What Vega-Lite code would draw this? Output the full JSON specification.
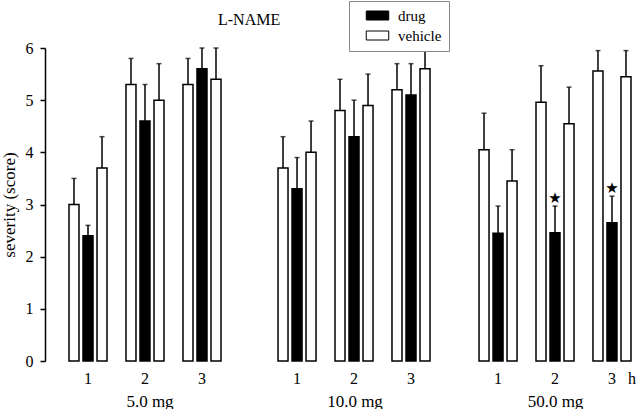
{
  "$schema": "https://vega.github.io/schema/vega-lite/v6.json",
  "padding": {"left": 0, "top": 0, "right": 0, "bottom": 0},
  "title": {"text": "L-NAME", "anchor": "start", "frame": "group", "dx": 173, "offset": -27, "fontSize": 16, "fontWeight": "normal", "font": "Liberation Serif", "color": "black"},
  "data": {"values": [
    {"dose": "5.0 mg", "t": "1", "slot": "a", "grp": "vehicle", "v": 3.0, "e": 3.5, "star": false},
    {"dose": "5.0 mg", "t": "1", "slot": "b", "grp": "drug", "v": 2.4, "e": 2.6, "star": false},
    {"dose": "5.0 mg", "t": "1", "slot": "c", "grp": "vehicle", "v": 3.7, "e": 4.3, "star": false},
    {"dose": "5.0 mg", "t": "2", "slot": "a", "grp": "vehicle", "v": 5.3, "e": 5.8, "star": false},
    {"dose": "5.0 mg", "t": "2", "slot": "b", "grp": "drug", "v": 4.6, "e": 5.3, "star": false},
    {"dose": "5.0 mg", "t": "2", "slot": "c", "grp": "vehicle", "v": 5.0, "e": 5.7, "star": false},
    {"dose": "5.0 mg", "t": "3", "slot": "a", "grp": "vehicle", "v": 5.3, "e": 5.8, "star": false},
    {"dose": "5.0 mg", "t": "3", "slot": "b", "grp": "drug", "v": 5.6, "e": 6.0, "star": false},
    {"dose": "5.0 mg", "t": "3", "slot": "c", "grp": "vehicle", "v": 5.4, "e": 6.0, "star": false},
    {"dose": "10.0 mg", "t": "1", "slot": "a", "grp": "vehicle", "v": 3.7, "e": 4.3, "star": false},
    {"dose": "10.0 mg", "t": "1", "slot": "b", "grp": "drug", "v": 3.3, "e": 3.9, "star": false},
    {"dose": "10.0 mg", "t": "1", "slot": "c", "grp": "vehicle", "v": 4.0, "e": 4.6, "star": false},
    {"dose": "10.0 mg", "t": "2", "slot": "a", "grp": "vehicle", "v": 4.8, "e": 5.4, "star": false},
    {"dose": "10.0 mg", "t": "2", "slot": "b", "grp": "drug", "v": 4.3, "e": 5.0, "star": false},
    {"dose": "10.0 mg", "t": "2", "slot": "c", "grp": "vehicle", "v": 4.9, "e": 5.5, "star": false},
    {"dose": "10.0 mg", "t": "3", "slot": "a", "grp": "vehicle", "v": 5.2, "e": 5.7, "star": false},
    {"dose": "10.0 mg", "t": "3", "slot": "b", "grp": "drug", "v": 5.1, "e": 5.7, "star": false},
    {"dose": "10.0 mg", "t": "3", "slot": "c", "grp": "vehicle", "v": 5.6, "e": 6.0, "star": false},
    {"dose": "50.0 mg", "t": "1", "slot": "a", "grp": "vehicle", "v": 4.05, "e": 4.75, "star": false},
    {"dose": "50.0 mg", "t": "1", "slot": "b", "grp": "drug", "v": 2.45, "e": 2.97, "star": false},
    {"dose": "50.0 mg", "t": "1", "slot": "c", "grp": "vehicle", "v": 3.45, "e": 4.05, "star": false},
    {"dose": "50.0 mg", "t": "2", "slot": "a", "grp": "vehicle", "v": 4.96, "e": 5.66, "star": false},
    {"dose": "50.0 mg", "t": "2", "slot": "b", "grp": "drug", "v": 2.46, "e": 2.97, "star": true},
    {"dose": "50.0 mg", "t": "2", "slot": "c", "grp": "vehicle", "v": 4.55, "e": 5.25, "star": false},
    {"dose": "50.0 mg", "t": "3", "slot": "a", "grp": "vehicle", "v": 5.56, "e": 5.95, "star": false},
    {"dose": "50.0 mg", "t": "3", "slot": "b", "grp": "drug", "v": 2.65, "e": 3.16, "star": true},
    {"dose": "50.0 mg", "t": "3", "slot": "c", "grp": "vehicle", "v": 5.45, "e": 5.95, "star": false}
  ]},
  "spacing": 0,
  "hconcat": [
    {
      "width": 209, "height": 313,
      "transform": [{"filter": "datum.dose == '5.0 mg'"}],
      "encoding": {
        "x": {"field": "t", "type": "nominal", "scale": {"paddingInner": 0.333, "paddingOuter": 0.5, "align": 0.421}, "axis": {"title": "5.0 mg", "labelAngle": 0, "domain": false, "ticks": false, "labelPadding": 9, "titlePadding": 7}},
        "xOffset": {"field": "slot", "type": "nominal", "scale": {"paddingInner": 0.286, "paddingOuter": 0}}
      },
      "layer": [
        {"mark": {"type": "bar", "stroke": "black", "strokeWidth": 1.5},
         "encoding": {
           "y": {"field": "v", "type": "quantitative", "scale": {"domain": [0, 6], "nice": false}, "axis": {"title": "severity (score)", "values": [0, 1, 2, 3, 4, 5, 6], "tickSize": 5, "labelPadding": 7, "titlePadding": 7, "labelFontSize": 16, "domainWidth": 1.5, "tickWidth": 1.5}},
           "fill": {"field": "grp", "type": "nominal", "scale": {"domain": ["drug", "vehicle"], "range": ["black", "white"]},
             "legend": {"orient": "none", "legendX": 304, "legendY": -47, "title": null, "symbolType": "M-2.5,-1H2.5V1H-2.5Z", "symbolSize": 81, "symbolStrokeColor": "black", "symbolStrokeWidth": 1, "labelFontSize": 15, "padding": 7, "rowPadding": 4, "strokeColor": "#888", "fillColor": "white", "symbolOffset": 14, "labelOffset": 13}}
         }},
        {"mark": {"type": "rule", "strokeWidth": 1.5, "color": "black"},
         "encoding": {"y": {"field": "v", "type": "quantitative"}, "y2": {"field": "e"}}},
        {"mark": {"type": "tick", "thickness": 1.5, "size": 5, "color": "black"},
         "encoding": {"y": {"field": "e", "type": "quantitative"}}}
      ]
    },
    {
      "width": 201, "height": 313,
      "transform": [{"filter": "datum.dose == '10.0 mg'"}],
      "encoding": {
        "x": {"field": "t", "type": "nominal", "scale": {"paddingInner": 0.333, "paddingOuter": 0.43, "align": 0.49}, "axis": {"title": "10.0 mg", "labelAngle": 0, "domain": false, "ticks": false, "labelPadding": 9, "titlePadding": 7}},
        "xOffset": {"field": "slot", "type": "nominal", "scale": {"paddingInner": 0.286, "paddingOuter": 0}}
      },
      "layer": [
        {"mark": {"type": "bar", "stroke": "black", "strokeWidth": 1.5},
         "encoding": {
           "y": {"field": "v", "type": "quantitative", "scale": {"domain": [0, 6], "nice": false}, "axis": null},
           "fill": {"field": "grp", "type": "nominal", "scale": {"domain": ["drug", "vehicle"], "range": ["black", "white"]}, "legend": null}
         }},
        {"mark": {"type": "rule", "strokeWidth": 1.5, "color": "black"},
         "encoding": {"y": {"field": "v", "type": "quantitative"}, "y2": {"field": "e"}}},
        {"mark": {"type": "tick", "thickness": 1.5, "size": 5, "color": "black"},
         "encoding": {"y": {"field": "e", "type": "quantitative"}}}
      ]
    },
    {
      "width": 185, "height": 313,
      "transform": [{"filter": "datum.dose == '50.0 mg'"}],
      "encoding": {
        "x": {"field": "t", "type": "nominal", "scale": {"paddingInner": 0.333, "paddingOuter": 0.29, "align": 0.727}, "axis": {"title": "50.0 mg", "titleX": 100, "labelAngle": 0, "domain": false, "ticks": false, "labelPadding": 9, "titlePadding": 7, "labelAlign": "left", "labelOffset": -4, "labelExpr": "datum.label == '3' ? '3\u00a0\u00a0\u00a0h' : datum.label"}},
        "xOffset": {"field": "slot", "type": "nominal", "scale": {"paddingInner": 0.286, "paddingOuter": 0}}
      },
      "layer": [
        {"mark": {"type": "bar", "stroke": "black", "strokeWidth": 1.5},
         "encoding": {
           "y": {"field": "v", "type": "quantitative", "scale": {"domain": [0, 6], "nice": false}, "axis": null},
           "fill": {"field": "grp", "type": "nominal", "scale": {"domain": ["drug", "vehicle"], "range": ["black", "white"]}, "legend": null}
         }},
        {"mark": {"type": "rule", "strokeWidth": 1.5, "color": "black"},
         "encoding": {"y": {"field": "v", "type": "quantitative"}, "y2": {"field": "e"}}},
        {"mark": {"type": "tick", "thickness": 1.5, "size": 5, "color": "black"},
         "encoding": {"y": {"field": "e", "type": "quantitative"}}},
        {"transform": [{"filter": "datum.star"}],
         "mark": {"type": "text", "text": "★", "fontSize": 15, "dy": -8, "baseline": "middle", "color": "black", "font": "DejaVu Sans"},
         "encoding": {"y": {"field": "e", "type": "quantitative"}}}
      ]
    }
  ],
  "config": {
    "font": "Liberation Serif",
    "view": {"stroke": null},
    "axis": {"labelFontSize": 16, "titleFontSize": 17, "titleFontWeight": "normal", "labelColor": "black", "titleColor": "black", "domainColor": "black", "tickColor": "black", "grid": false},
    "legend": {"labelColor": "black", "labelFont": "Liberation Serif"}
  }
}
